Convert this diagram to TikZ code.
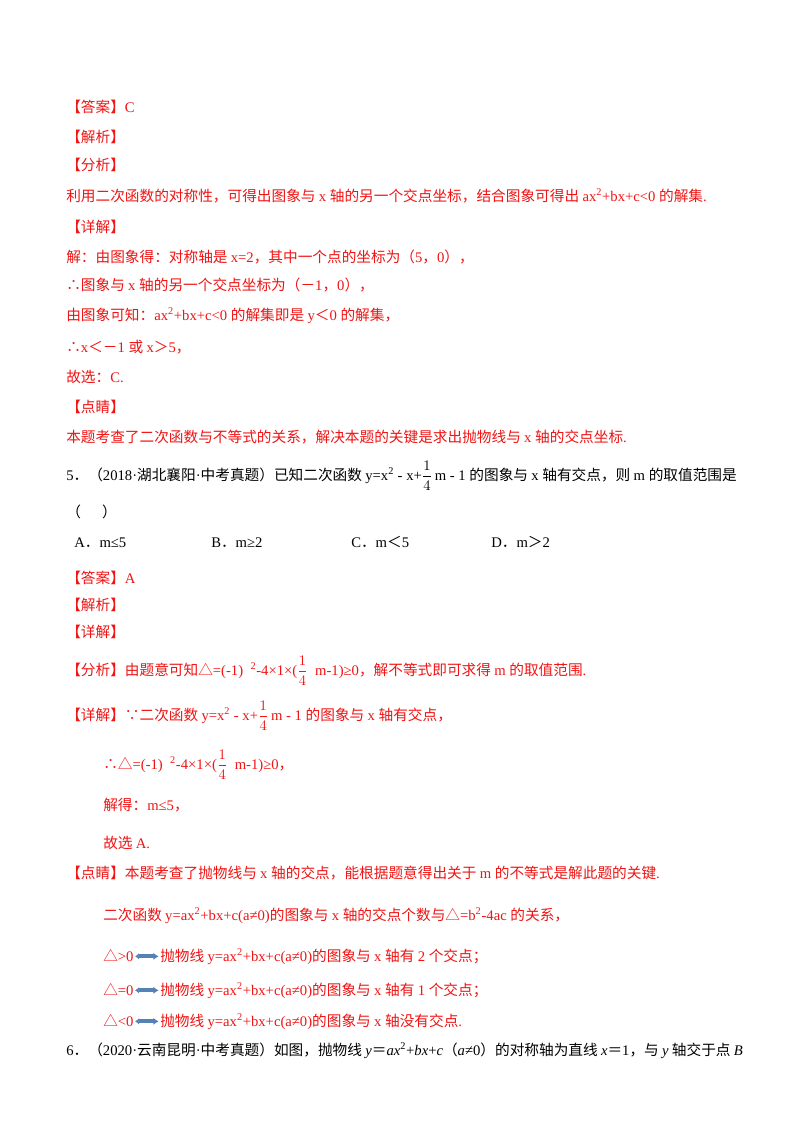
\documentclass[tikz,border=0pt]{standalone}
\usepackage{fontspec}
\usetikzlibrary{arrows.meta}
\setmainfont{Liberation Serif}
\newfontfamily\cjk{Noto Sans CJK SC}
\newfontfamily\latinrm{Liberation Serif}
\newcommand\qfr{$\displaystyle\frac{1}{4}$}
\XeTeXinterchartokenstate=1
\newXeTeXintercharclass\CJKclass
\count255="4E00
\loop\ifnum\count255<"A000 \XeTeXcharclass\count255=\CJKclass \advance\count255 by 1 \repeat
\count255="3000
\loop\ifnum\count255<"3040 \XeTeXcharclass\count255=\CJKclass \advance\count255 by 1 \repeat
\count255="FF00
\loop\ifnum\count255<"FF66 \XeTeXcharclass\count255=\CJKclass \advance\count255 by 1 \repeat
\XeTeXcharclass"2234=\CJKclass
\XeTeXcharclass"2235=\CJKclass
\XeTeXcharclass"25B3=\CJKclass
\XeTeXcharclass"2014=\CJKclass
\XeTeXinterchartoks 0 \CJKclass = {\cjk}
\XeTeXinterchartoks 4095 \CJKclass = {\cjk}
\XeTeXinterchartoks \CJKclass 0 = {\latinrm}
\XeTeXinterchartoks 4095 0 = {\latinrm}
\definecolor{rd}{RGB}{240,20,20}
\definecolor{arw}{RGB}{84,130,180}
\begin{document}
\begin{tikzpicture}[x=0.75pt,y=-0.75pt,
  t/.style={anchor=base west,inner sep=0pt,font=\fontsize{11}{13}\selectfont},
  r/.style={t,text=rd},
  eqv/.style={arw,line width=3pt,{Latex[length=3pt,width=5pt]}-{Latex[length=4pt,width=5.5pt]},shorten <=1pt,shorten >=1pt}]
\useasboundingbox (0,0) rectangle (800,1132);
\fill[white] (0,0) rectangle (800,1132);
\node[r] (l1) at (66,112) {【答案】C};
\node[r] (l2) at (66,142) {【解析】};
\node[r] (l3) at (66,170) {【分析】};
\node[r] (l4) at (66,201) {利用二次函数的对称性，可得出图象与 x 轴的另一个交点坐标，结合图象可得出 ax\textsuperscript{2}+bx+c<0 的解集.};
\node[r] (l5) at (66,232) {【详解】};
\node[r] (l6) at (66,262) {解：由图象得：对称轴是 x=2，其中一个点的坐标为（5，0），};
\node[r] (l7) at (66,290) {∴图象与 x 轴的另一个交点坐标为（－1，0），};
\node[r] (l8) at (66,320) {由图象可知：ax\textsuperscript{2}+bx+c<0 的解集即是 y＜0 的解集，};
\node[r] (l9) at (66,352) {∴x＜－1 或 x＞5，};
\node[r] (l10) at (66,382) {故选：C.};
\node[r] (l11) at (66,412) {【点睛】};
\node[r] (l12) at (66,442) {本题考查了二次函数与不等式的关系，解决本题的关键是求出抛物线与 x 轴的交点坐标.};
\node[t] (q5) at (66,480) {5．（2018·湖北襄阳·中考真题）已知二次函数 y=x\textsuperscript{2} - x+\qfr\,m - 1 的图象与 x 轴有交点，则 m 的取值范围是};
\node[t] (q5b) at (66,517) {（\quad\ \ ）};
\node[t] (ca) at (74,547) {A．m≤5};
\node[t] (cb) at (211,547) {B．m≥2};
\node[t] (cc) at (351,547) {C．m＜5};
\node[t] (cd) at (491,547) {D．m＞2};
\node[r] (a1) at (66,583) {【答案】A};
\node[r] (a2) at (66,610) {【解析】};
\node[r] (a3) at (66,637) {【详解】};
\node[r] (a4) at (66,675) {【分析】由题意可知△=(-1)\ \ \textsuperscript{2}-4×1×(\qfr\ \ m-1)≥0，解不等式即可求得 m 的取值范围.};
\node[r] (a5) at (66,720) {【详解】∵二次函数 y=x\textsuperscript{2} - x+\qfr\,m - 1 的图象与 x 轴有交点，};
\node[r] (a6) at (103,769) {∴△=(-1)\ \ \textsuperscript{2}-4×1×(\qfr\ \ m-1)≥0，};
\node[r] (a7) at (103,810) {解得：m≤5，};
\node[r] (a8) at (103,848) {故选 A.};
\node[r] (a9) at (66,878) {【点睛】本题考查了抛物线与 x 轴的交点，能根据题意得出关于 m 的不等式是解此题的关键.};
\node[r] (a10) at (103,920) {二次函数 y=ax\textsuperscript{2}+bx+c(a≠0)的图象与 x 轴的交点个数与△=b\textsuperscript{2}-4ac 的关系，};
\node[r] (d1) at (103,961) {△>0};
\node[r] (e1) at (160,961) {抛物线 y=ax\textsuperscript{2}+bx+c(a≠0)的图象与 x 轴有 2 个交点；};
\node[r] (d2) at (103,995) {△=0};
\node[r] (e2) at (160,995) {抛物线 y=ax\textsuperscript{2}+bx+c(a≠0)的图象与 x 轴有 1 个交点；};
\node[r] (d3) at (103,1026) {△<0};
\node[r] (e3) at (160,1026) {抛物线 y=ax\textsuperscript{2}+bx+c(a≠0)的图象与 x 轴没有交点.};
\draw[eqv] ([yshift=3.5pt]d1.base east) -- ([yshift=3.5pt]e1.base west);
\draw[eqv] ([yshift=3.5pt]d2.base east) -- ([yshift=3.5pt]e2.base west);
\draw[eqv] ([yshift=3.5pt]d3.base east) -- ([yshift=3.5pt]e3.base west);
\node[t] (q6) at (66,1055) {6．（2020·云南昆明·中考真题）如图，抛物线 \textit{y}＝\textit{ax}\textsuperscript{2}+\textit{bx}+\textit{c}（\textit{a}≠0）的对称轴为直线 \textit{x}＝1，与 \textit{y} 轴交于点 \textit{B}};
\end{tikzpicture}
\end{document}
